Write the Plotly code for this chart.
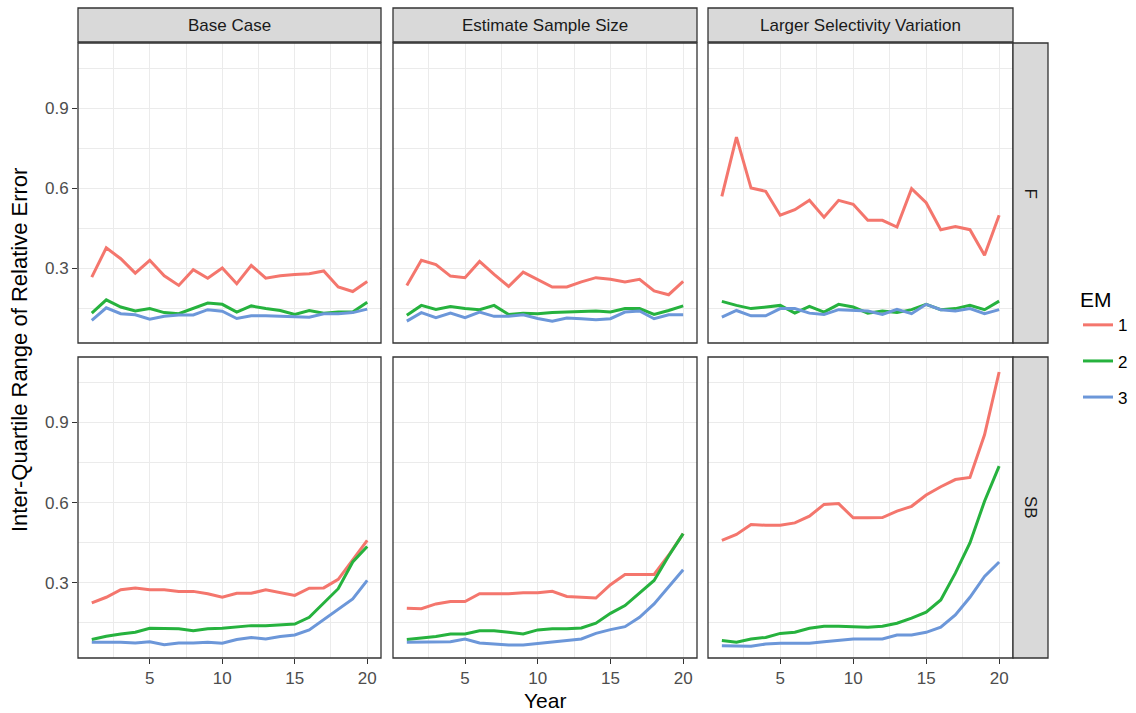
import plotly.graph_objects as go

# ---------------- data ----------------
years = list(range(1, 21))
scenarios = ["Base Case", "Estimate Sample Size", "Larger Selectivity Variation"]
quantities = ["F", "SB"]
em_levels = ["1", "2", "3"]

# F, Base Case
f_base_em1 = [0.266, 0.376, 0.335, 0.281, 0.329, 0.271, 0.235, 0.294, 0.262, 0.300,
              0.241, 0.310, 0.262, 0.271, 0.276, 0.279, 0.289, 0.229, 0.212, 0.250]
f_base_em2 = [0.131, 0.181, 0.154, 0.139, 0.148, 0.133, 0.129, 0.148, 0.169, 0.164,
              0.135, 0.158, 0.148, 0.141, 0.126, 0.141, 0.131, 0.135, 0.135, 0.172]
f_base_em3 = [0.104, 0.151, 0.129, 0.125, 0.108, 0.119, 0.124, 0.124, 0.144, 0.138,
              0.111, 0.121, 0.121, 0.119, 0.116, 0.116, 0.129, 0.129, 0.133, 0.146]
# F, Estimate Sample Size
f_ess_em1 = [0.235, 0.329, 0.313, 0.270, 0.264, 0.325, 0.276, 0.231, 0.285, 0.256,
             0.229, 0.229, 0.248, 0.264, 0.258, 0.248, 0.258, 0.214, 0.200, 0.250]
f_ess_em2 = [0.123, 0.160, 0.145, 0.156, 0.148, 0.144, 0.160, 0.126, 0.131, 0.129,
             0.133, 0.135, 0.139, 0.139, 0.135, 0.148, 0.148, 0.126, 0.141, 0.158]
f_ess_em3 = [0.101, 0.133, 0.114, 0.131, 0.114, 0.135, 0.119, 0.119, 0.125, 0.111,
             0.101, 0.113, 0.110, 0.106, 0.110, 0.135, 0.139, 0.110, 0.125, 0.125]
# F, Larger Selectivity Variation
f_lsv_em1 = [0.569, 0.791, 0.600, 0.588, 0.498, 0.519, 0.554, 0.491, 0.554, 0.539,
             0.479, 0.479, 0.454, 0.598, 0.545, 0.444, 0.456, 0.444, 0.348, 0.498]
f_lsv_em2 = [0.175, 0.160, 0.148, 0.154, 0.160, 0.131, 0.156, 0.135, 0.164, 0.154,
             0.131, 0.139, 0.133, 0.144, 0.164, 0.144, 0.148, 0.160, 0.144, 0.176]
f_lsv_em3 = [0.116, 0.141, 0.121, 0.121, 0.148, 0.148, 0.131, 0.126, 0.144, 0.141,
             0.139, 0.126, 0.145, 0.129, 0.164, 0.144, 0.139, 0.148, 0.129, 0.144]
# SB, Base Case
sb_base_em1 = [0.225, 0.246, 0.274, 0.281, 0.274, 0.274, 0.268, 0.268, 0.259, 0.246,
               0.261, 0.261, 0.274, 0.263, 0.253, 0.280, 0.281, 0.313, 0.384, 0.459]
sb_base_em2 = [0.088, 0.100, 0.109, 0.115, 0.130, 0.128, 0.128, 0.121, 0.128, 0.130,
               0.134, 0.140, 0.140, 0.144, 0.146, 0.171, 0.225, 0.278, 0.378, 0.436]
sb_base_em3 = [0.078, 0.078, 0.078, 0.075, 0.080, 0.069, 0.075, 0.075, 0.078, 0.074,
               0.088, 0.096, 0.090, 0.099, 0.105, 0.124, 0.163, 0.203, 0.240, 0.309]
# SB, Estimate Sample Size
sb_ess_em1 = [0.205, 0.203, 0.221, 0.230, 0.230, 0.259, 0.259, 0.259, 0.263, 0.263,
              0.268, 0.249, 0.246, 0.243, 0.293, 0.331, 0.331, 0.331, 0.403, 0.484]
sb_ess_em2 = [0.088, 0.094, 0.099, 0.109, 0.109, 0.121, 0.121, 0.115, 0.109, 0.124,
              0.128, 0.128, 0.131, 0.149, 0.186, 0.215, 0.261, 0.309, 0.400, 0.484]
sb_ess_em3 = [0.078, 0.078, 0.080, 0.080, 0.090, 0.075, 0.071, 0.068, 0.068, 0.074,
              0.080, 0.084, 0.090, 0.111, 0.125, 0.136, 0.171, 0.221, 0.284, 0.349]
# SB, Larger Selectivity Variation
sb_lsv_em1 = [0.459, 0.481, 0.518, 0.515, 0.515, 0.524, 0.549, 0.593, 0.596, 0.543,
              0.543, 0.544, 0.568, 0.586, 0.628, 0.659, 0.686, 0.694, 0.853, 1.088]
sb_lsv_em2 = [0.084, 0.078, 0.090, 0.096, 0.111, 0.115, 0.130, 0.138, 0.138, 0.136,
              0.134, 0.138, 0.149, 0.168, 0.190, 0.236, 0.336, 0.449, 0.605, 0.736]
sb_lsv_em3 = [0.065, 0.065, 0.063, 0.071, 0.074, 0.074, 0.074, 0.080, 0.084, 0.090,
              0.090, 0.090, 0.105, 0.105, 0.115, 0.134, 0.180, 0.246, 0.324, 0.378]

x_ticks = [5, 10, 15, 20]
y_ticks = [0.3, 0.6, 0.9]
y_tick_labels = ["0.3", "0.6", "0.9"]

series = {
    ("F", "Base Case"): [f_base_em1, f_base_em2, f_base_em3],
    ("F", "Estimate Sample Size"): [f_ess_em1, f_ess_em2, f_ess_em3],
    ("F", "Larger Selectivity Variation"): [f_lsv_em1, f_lsv_em2, f_lsv_em3],
    ("SB", "Base Case"): [sb_base_em1, sb_base_em2, sb_base_em3],
    ("SB", "Estimate Sample Size"): [sb_ess_em1, sb_ess_em2, sb_ess_em3],
    ("SB", "Larger Selectivity Variation"): [sb_lsv_em1, sb_lsv_em2, sb_lsv_em3],
}

colors = ["#F4766D", "#26B23E", "#6C97D9"]

# ---------------- layout geometry (pixels) ----------------
W, H = 1136, 713
col_px = [(78, 381), (393, 697), (708, 1013)]
row_px = [(43, 343), (357, 658)]
strip_top = (8, 42)
strip_right = (1013, 1048)

def fx(p):
    return p / W

def fy(p):
    return 1 - p / H

FONT = "Liberation Sans, Arial, sans-serif"
TICK_SIZE = 17
TITLE_SIZE = 21
GRID = "#EBEBEB"
BORDER = "#333333"

fig = go.Figure()
layout = dict(
    width=W, height=H,
    margin=dict(l=0, r=0, t=0, b=0),
    paper_bgcolor="white", plot_bgcolor="white",
    font=dict(family=FONT, color="#000000"),
    showlegend=True,
)
shapes = []
annotations = []

for r, q in enumerate(quantities):
    for c, s in enumerate(scenarios):
        k = r * 3 + c + 1
        xa = "xaxis" if k == 1 else f"xaxis{k}"
        ya = "yaxis" if k == 1 else f"yaxis{k}"
        xr = "x" if k == 1 else f"x{k}"
        yr = "y" if k == 1 else f"y{k}"
        bottom = r == len(quantities) - 1
        left = c == 0
        layout[xa] = dict(
            domain=[fx(col_px[c][0]), fx(col_px[c][1])],
            anchor=yr, range=[0.05, 20.95],
            tickvals=x_ticks, ticktext=[str(v) for v in x_ticks],
            showticklabels=bottom,
            ticks="outside" if bottom else "", ticklen=5, tickwidth=1, tickcolor=BORDER,
            tickfont=dict(size=TICK_SIZE, color="#4D4D4D", family=FONT),
            showgrid=True, gridcolor=GRID, gridwidth=1.3,
            minor=dict(tickvals=[2.5, 7.5, 12.5, 17.5], showgrid=True,
                       gridcolor=GRID, gridwidth=0.7),
            zeroline=False, showline=False,
        )
        layout[ya] = dict(
            domain=[fy(row_px[r][1]), fy(row_px[r][0])],
            anchor=xr, range=[0.019, 1.144],
            tickvals=y_ticks, ticktext=y_tick_labels,
            showticklabels=left,
            ticks="outside" if left else "", ticklen=5, tickwidth=1, tickcolor=BORDER,
            tickfont=dict(size=TICK_SIZE, color="#4D4D4D", family=FONT),
            showgrid=True, gridcolor=GRID, gridwidth=1.3,
            minor=dict(tickvals=[0.15, 0.45, 0.75, 1.05], showgrid=True,
                       gridcolor=GRID, gridwidth=0.7),
            zeroline=False, showline=False,
        )
        for i, em in enumerate(em_levels):
            fig.add_trace(go.Scatter(
                x=years, y=series[(q, s)][i], mode="lines",
                line=dict(color=colors[i], width=3),
                name=em, legendgroup=em,
                showlegend=(k == 1),
                xaxis=xr, yaxis=yr, hoverinfo="skip",
            ))
        # panel border
        shapes.append(dict(type="rect", xref="paper", yref="paper",
                           x0=fx(col_px[c][0]), x1=fx(col_px[c][1]),
                           y0=fy(row_px[r][1]), y1=fy(row_px[r][0]),
                           line=dict(color=BORDER, width=1.3), fillcolor="rgba(0,0,0,0)",
                           layer="above"))

# top strips
for c, s in enumerate(scenarios):
    shapes.append(dict(type="rect", xref="paper", yref="paper",
                       x0=fx(col_px[c][0]), x1=fx(col_px[c][1]),
                       y0=fy(strip_top[1]), y1=fy(strip_top[0]),
                       line=dict(color=BORDER, width=1.3), fillcolor="#D9D9D9"))
    annotations.append(dict(text=s, xref="paper", yref="paper",
                            x=fx((col_px[c][0] + col_px[c][1]) / 2),
                            y=fy((strip_top[0] + strip_top[1]) / 2),
                            showarrow=False, xanchor="center", yanchor="middle",
                            font=dict(size=TICK_SIZE, color="#1A1A1A", family=FONT)))
# right strips
for r, q in enumerate(quantities):
    shapes.append(dict(type="rect", xref="paper", yref="paper",
                       x0=fx(strip_right[0]), x1=fx(strip_right[1]),
                       y0=fy(row_px[r][1]), y1=fy(row_px[r][0]),
                       line=dict(color=BORDER, width=1.3), fillcolor="#D9D9D9"))
    annotations.append(dict(text=q, xref="paper", yref="paper",
                            x=fx((strip_right[0] + strip_right[1]) / 2),
                            y=fy((row_px[r][0] + row_px[r][1]) / 2),
                            showarrow=False, xanchor="center", yanchor="middle",
                            textangle=90,
                            font=dict(size=TICK_SIZE, color="#1A1A1A", family=FONT)))

# axis titles
annotations.append(dict(text="Year", xref="paper", yref="paper",
                        x=fx(545), y=fy(700), showarrow=False,
                        xanchor="center", yanchor="middle",
                        font=dict(size=TITLE_SIZE, color="#000000", family=FONT)))
annotations.append(dict(text="Inter-Quartile Range of Relative Error", xref="paper", yref="paper",
                        x=fx(20), y=fy(350), showarrow=False, textangle=-90,
                        xanchor="center", yanchor="middle",
                        font=dict(size=TITLE_SIZE + 1, color="#000000", family=FONT)))

layout["shapes"] = shapes
layout["annotations"] = annotations
layout["legend"] = dict(
    title=dict(text="EM", font=dict(size=21, family=FONT, color="#000000")),
    font=dict(size=17, family=FONT, color="#000000"),
    x=fx(1078), y=fy(280), xanchor="left", yanchor="top",
    bgcolor="rgba(0,0,0,0)", tracegroupgap=11, itemwidth=30,
)
fig.update_layout(**layout)
fig.write_html("out.html")
